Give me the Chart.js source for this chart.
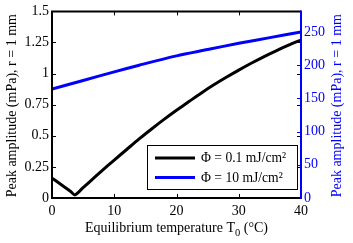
<!DOCTYPE html>
<html><head><meta charset="utf-8">
<style>html,body{margin:0;padding:0;background:#fff}#c{display:block}</style>
<script src="https://cdn.jsdelivr.net/npm/chart.js@4"></script>
</head><body>
<canvas id="c" width="353" height="243"></canvas>
<script>
// Data (T0 in °C)
const tempsLow = [0,1,2,3,3.7,5,6,8,10,12,14,16,18,20,22,24,26,28,30,32,34,36,38,40];
const ampLow = [0.16,0.124,0.088,0.052,0.025,0.083,0.128,0.218,0.305,0.39,0.475,0.555,0.632,0.705,0.775,0.845,0.91,0.97,1.028,1.083,1.135,1.183,1.228,1.27]; // mPa, left axis
const tempsHigh = [0,5,10,14,20,25,30,35,40];
const ampHigh = [164,177,190,200,214,223.5,233,241.5,250]; // mPa, right axis
const xTicks = [0,10,20,30,40];
const leftTicks = [0,0.25,0.5,0.75,1,1.25,1.5];
const rightTicks = [0,50,100,150,200,250];
const legendLabels = ['Φ = 0.1 mJ/cm²','Φ = 10 mJ/cm²'];
const yTitle = 'Peak amplitude (mPa), r = 1 mm';
const xTitleMain = 'Equilibrium temperature T';
const xTitleSub = '0';
const xTitleEnd = ' (°C)';

const FONT = 'Liberation Serif, Times New Roman, serif';
const BLUE = '#0000ff';

const frame = {
  id:'frame',
  afterDatasetsDraw(chart){
    const ctx = chart.ctx, a = chart.chartArea;
    const sx = chart.scales.x, sy = chart.scales.y, sy2 = chart.scales.y2;
    ctx.save();
    // legend
    const bx=147.5, by=145.5, bw=150, bh=44;
    ctx.fillStyle='#fff'; ctx.fillRect(bx,by,bw,bh);
    ctx.strokeStyle='#000'; ctx.lineWidth=1; ctx.strokeRect(bx,by,bw,bh);
    const rows=[158,177.5], cols=['#000',BLUE];
    ctx.font='13.6px '+FONT; ctx.textBaseline='middle'; ctx.textAlign='left';
    rows.forEach((ry,i)=>{
      ctx.strokeStyle=cols[i]; ctx.lineWidth=3;
      ctx.beginPath(); ctx.moveTo(155,ry); ctx.lineTo(195,ry); ctx.stroke();
      ctx.fillStyle='#000'; ctx.fillText(legendLabels[i],201,ry+0.5);
    });
    // ticks inward
    const tl=4;
    ctx.lineWidth=1; ctx.strokeStyle='#000';
    xTicks.forEach(v=>{
      const px=Math.round(sx.getPixelForValue(v))+0.5;
      ctx.beginPath(); ctx.moveTo(px,a.bottom); ctx.lineTo(px,a.bottom-tl);
      ctx.moveTo(px,a.top); ctx.lineTo(px,a.top+tl); ctx.stroke();
    });
    leftTicks.forEach(v=>{
      const py=Math.round(sy.getPixelForValue(v))+0.5;
      ctx.beginPath(); ctx.moveTo(a.left,py); ctx.lineTo(a.left+tl,py);
      ctx.moveTo(a.right,py); ctx.lineTo(a.right-tl,py); ctx.stroke();
    });
    ctx.strokeStyle=BLUE;
    rightTicks.forEach(v=>{
      const py=Math.round(sy2.getPixelForValue(v))+0.5;
      ctx.beginPath(); ctx.moveTo(a.right,py); ctx.lineTo(a.right-tl,py); ctx.stroke();
    });
    // axes lines
    ctx.lineWidth=2; ctx.strokeStyle='#000';
    ctx.beginPath();
    ctx.moveTo(a.right,a.top); ctx.lineTo(a.left,a.top); ctx.lineTo(a.left,a.bottom); ctx.lineTo(a.right,a.bottom);
    ctx.stroke();
    ctx.strokeStyle=BLUE;
    ctx.beginPath(); ctx.moveTo(a.right,a.top-1); ctx.lineTo(a.right,a.bottom+1); ctx.stroke();
    // titles
    ctx.font='14px '+FONT; ctx.textBaseline='middle'; ctx.textAlign='center';
    const cy=(a.top+a.bottom)/2+1;
    ctx.fillStyle='#000';
    ctx.save(); ctx.translate(12.5,cy); ctx.rotate(-Math.PI/2); ctx.fillText(yTitle,0,0); ctx.restore();
    ctx.fillStyle=BLUE;
    ctx.save(); ctx.translate(337,cy); ctx.rotate(-Math.PI/2); ctx.fillText(yTitle,0,0); ctx.restore();
    // x title with subscript
    ctx.fillStyle='#000'; ctx.textAlign='left';
    const w1=ctx.measureText(xTitleMain).width, w3=ctx.measureText(xTitleEnd).width;
    ctx.font='10.5px '+FONT; const w2=ctx.measureText(xTitleSub).width;
    const total=w1+w2+w3, x0=(a.left+a.right)/2-total/2, ty=228;
    ctx.font='14px '+FONT; ctx.fillText(xTitleMain,x0,ty);
    ctx.font='10.5px '+FONT; ctx.fillText(xTitleSub,x0+w1,ty+5);
    ctx.font='14px '+FONT; ctx.fillText(xTitleEnd,x0+w1+w2,ty);
    ctx.restore();
  }
};

const fmt = v => String(v);

new Chart(document.getElementById('c'),{
  type:'line',
  data:{datasets:[
    {data:tempsLow.map((t,i)=>({x:t,y:ampLow[i]})),borderColor:'#000',borderWidth:3,pointRadius:0,tension:0.25,yAxisID:'y'},
    {data:tempsHigh.map((t,i)=>({x:t,y:ampHigh[i]})),borderColor:BLUE,borderWidth:3,pointRadius:0,tension:0.3,yAxisID:'y2'}
  ]},
  options:{
    responsive:false, animation:false, devicePixelRatio:1,
    layout:{padding:{top:11,left:0,right:0,bottom:0}},
    plugins:{legend:{display:false},tooltip:{enabled:false}},
    scales:{
      x:{type:'linear',min:0,max:40,
        afterBuildTicks:s=>{s.ticks=xTicks.map(v=>({value:v}));},
        afterFit:s=>{s.height=45;},
        grid:{display:false,drawTicks:false},border:{display:false},
        ticks:{color:'#000',font:{family:FONT,size:14},padding:5,maxRotation:0,callback:fmt}},
      y:{position:'left',min:0,max:1.5,
        afterBuildTicks:s=>{s.ticks=leftTicks.map(v=>({value:v}));},
        afterFit:s=>{s.width=52;},
        grid:{display:false,drawTicks:false},border:{display:false},
        ticks:{color:'#000',font:{family:FONT,size:14},padding:3,callback:fmt}},
      y2:{position:'right',min:0,max:281,
        afterBuildTicks:s=>{s.ticks=rightTicks.map(v=>({value:v}));},
        afterFit:s=>{s.width=52;},
        grid:{display:false,drawTicks:false},border:{display:false},
        ticks:{color:BLUE,font:{family:FONT,size:14},padding:3,callback:fmt}}
    }
  },
  plugins:[frame]
});
</script>
</body></html>
